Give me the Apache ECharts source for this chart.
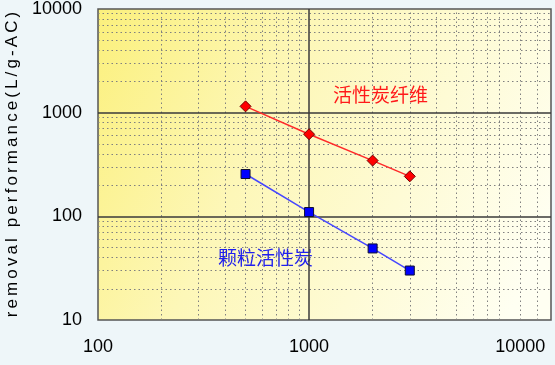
<!DOCTYPE html>
<html>
<head>
<meta charset="utf-8">
<script src="https://cdn.jsdelivr.net/npm/echarts@6/dist/echarts.min.js"></script>
<style>
html,body{margin:0;padding:0;background:#eef6f9;}
#chart{width:555px;height:365px;}
</style>
</head>
<body>
<div id="chart"></div>
<script>
// ---- data ----
const xValues = [500, 1000, 2000, 3000];
const acfValues = [1150, 620, 345, 243];   // 活性炭纤维
const gacValues = [256, 110, 49, 30];      // 颗粒活性炭
const seriesNames = ['活性炭纤维', '颗粒活性炭'];
const xTickLabels = [100, 1000, 10000];
const yTickLabels = [10, 100, 1000, 10000];
const xMajorGrid = [1000];
const yMajorGrid = [100, 1000];
const xMinorGrid = [200, 300, 400, 500, 600, 700, 800, 900, 2000, 3000, 4000, 5000, 6000, 7000, 8000, 10000, 12000];
const yMinorGrid = [20, 30, 40, 50, 60, 70, 80, 90, 200, 300, 400, 500, 600, 700, 800, 900, 2000, 3000, 4000, 5000, 6000, 7000, 8000, 9000];
const yTitle = 'removal performance(L/g-AC)';

const chart = echarts.init(document.getElementById('chart'), null, {renderer: 'canvas'});

const minorStyle = {color: '#808080', width: 1, type: [1.5, 3]};
const majorStyle = {color: '#3a3a3a', width: 1.5, type: 'solid'};
const gridLines = []
  .concat(xMinorGrid.map(v => ({xAxis: v, lineStyle: minorStyle})))
  .concat(yMinorGrid.map(v => ({yAxis: v, lineStyle: minorStyle})))
  .concat(xMajorGrid.map(v => ({xAxis: v, lineStyle: majorStyle})))
  .concat(yMajorGrid.map(v => ({yAxis: v, lineStyle: majorStyle})));

const richTitle = yTitle.split('').map(c => '{c|' + c + '}').join('');
const labelFont = {fontFamily: 'Liberation Sans', fontSize: 18, color: '#000'};

chart.setOption({
  animation: false,
  backgroundColor: '#eef6f9',
  grid: {
    left: 98, top: 9, right: 4, bottom: 45,
    outerBoundsMode: 'none',
    containLabel: false,
    show: true,
    borderColor: '#555', borderWidth: 1.5,
    backgroundColor: new echarts.graphic.LinearGradient(0, 0, 1, 0.7, [
      {offset: 0, color: '#fbf07c'},
      {offset: 0.4, color: '#fdf7b8'},
      {offset: 1, color: '#fffff2'}
    ])
  },
  xAxis: {
    type: 'log', min: 100, max: 14000, logBase: 10,
    axisLine: {show: false}, axisTick: {show: false},
    splitLine: {show: false},
    axisLabel: Object.assign({
      margin: 18, showMaxLabel: false,
      formatter: v => xTickLabels.indexOf(Math.round(v)) >= 0 && Math.abs(v - Math.round(v)) < 1e-6 ? String(Math.round(v)) : ''
    }, labelFont)
  },
  yAxis: {
    type: 'log', min: 10, max: 10000, logBase: 10,
    axisLine: {show: false}, axisTick: {show: false},
    splitLine: {show: false},
    axisLabel: Object.assign({
      margin: 16,
      formatter: v => yTickLabels.indexOf(Math.round(v)) >= 0 ? String(Math.round(v)) : ''
    }, labelFont),
    name: richTitle,
    nameLocation: 'middle',
    nameRotate: 90,
    nameGap: 73,
    nameTextStyle: {
      rich: {c: {fontFamily: 'Liberation Sans', fontSize: 17, color: '#000', padding: [0, 1.55, 0, 1.55]}}
    }
  },
  series: [
    {
      type: 'line', data: [], silent: true,
      markLine: {
        silent: true, symbol: ['none', 'none'], z: 1,
        label: {show: false}, emphasis: {disabled: true},
        data: gridLines
      }
    },
    {
      name: seriesNames[0], type: 'line', z: 3,
      data: xValues.map((x, i) => [x, acfValues[i]]),
      symbol: 'diamond', symbolSize: 11,
      lineStyle: {color: '#ff2a2a', width: 1.5},
      itemStyle: {color: '#ff0000', borderColor: '#700000', borderWidth: 1}
    },
    {
      name: seriesNames[1], type: 'line', z: 3,
      data: xValues.map((x, i) => [x, gacValues[i]]),
      symbol: 'rect', symbolSize: 9,
      lineStyle: {color: '#4646ff', width: 1.5},
      itemStyle: {color: '#0000ff', borderColor: '#101030', borderWidth: 1}
    }
  ],
  graphic: [
    {type: 'text', style: {text: seriesNames[0], x: 380.5, y: 94.5, textAlign: 'center', textVerticalAlign: 'middle', verticalAlign: 'middle', fill: '#ff1a1a', font: '19px "Noto Sans CJK SC"'}},
    {type: 'text', style: {text: seriesNames[1], x: 265.5, y: 257.5, textAlign: 'center', textVerticalAlign: 'middle', verticalAlign: 'middle', fill: '#2020ee', font: '19px "Noto Sans CJK SC"'}}
  ]
});
</script>
</body>
</html>
